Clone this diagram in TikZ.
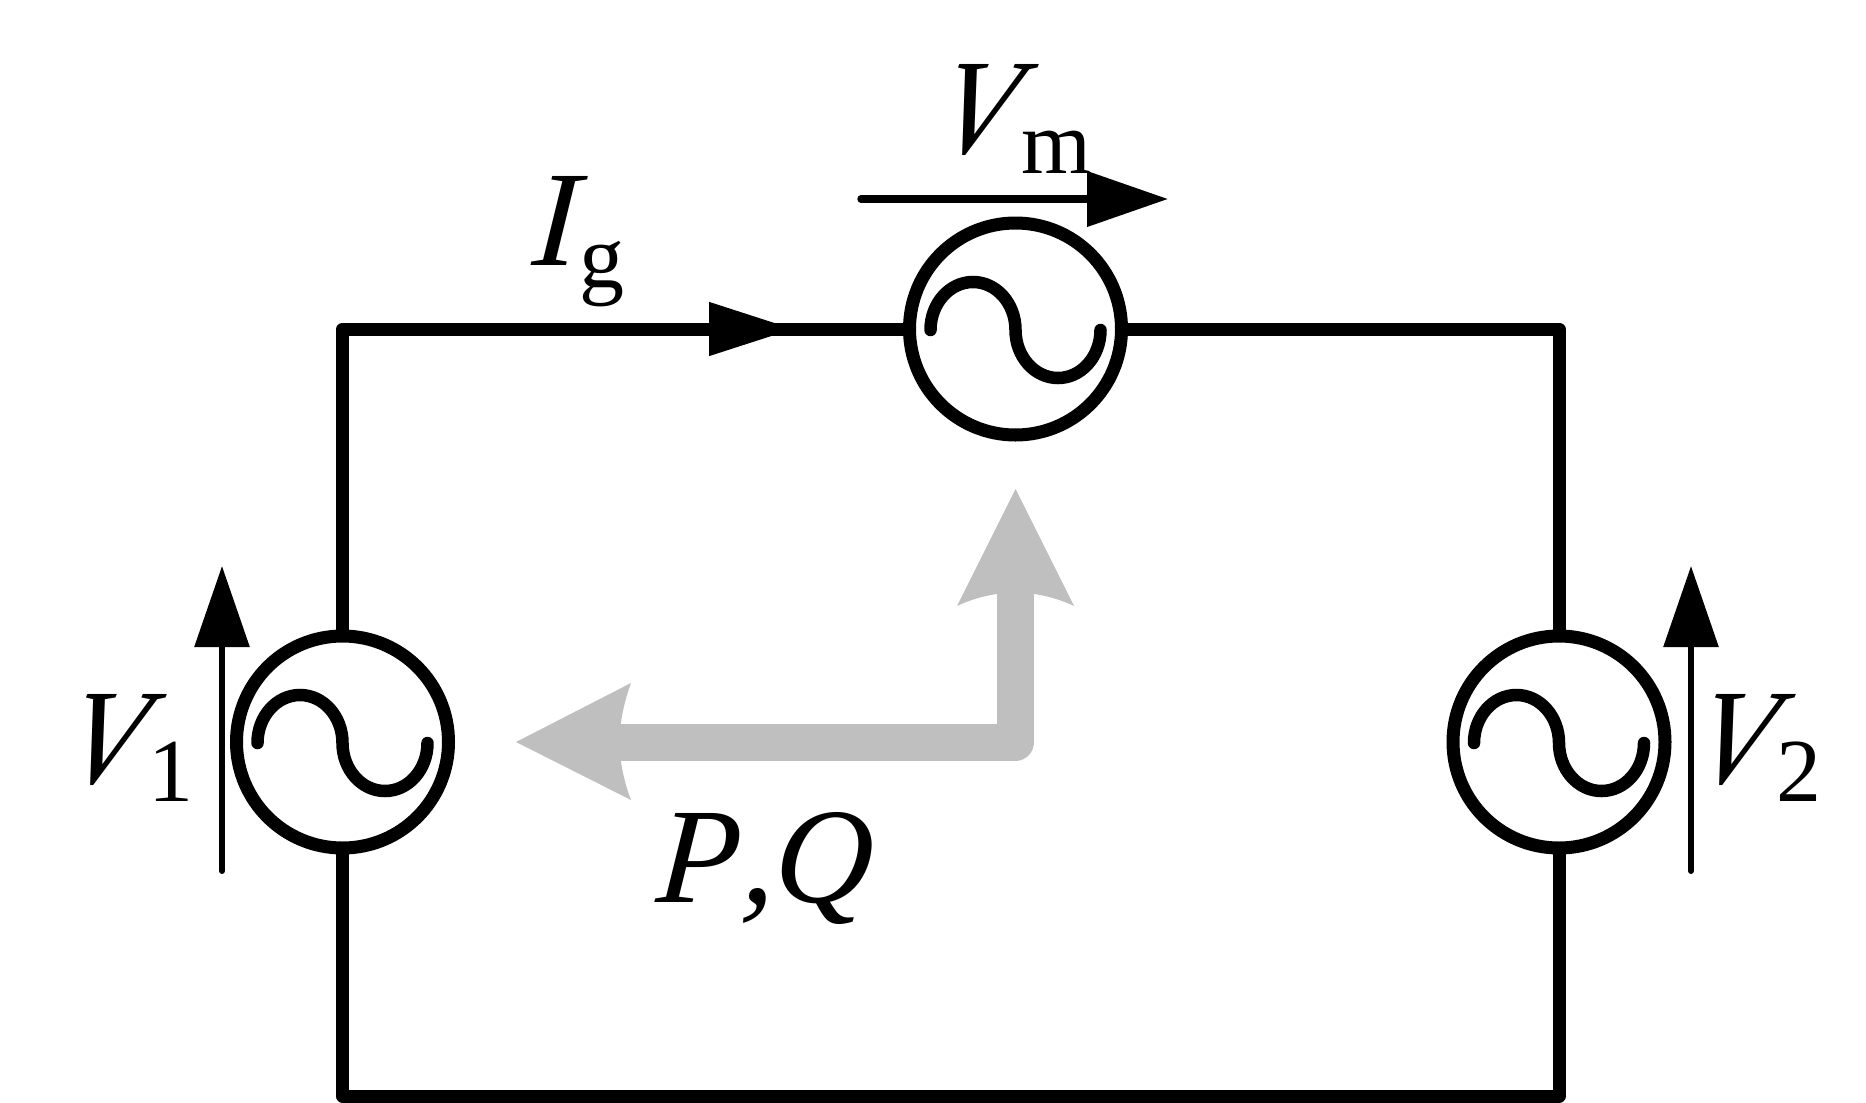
\documentclass[tikz,border=0pt]{standalone}
\usepackage{fontspec}
\setmainfont{Liberation Serif}
\usetikzlibrary{arrows.meta}
\definecolor{flowgray}{HTML}{BFBFBF}
\newfontface\vfont[FakeSlant=0.24,FakeStretch=0.9]{Liberation Serif Italic}
\newfontface\ifont[FakeSlant=0.07]{Liberation Serif Italic}
\newcommand{\vlab}{\fontsize{136}{136}\vfont}
\newcommand{\biglab}{\fontsize{136}{136}\ifont}
\newcommand{\sublab}{\fontsize{90}{90}\selectfont}
\tikzset{
  wire/.style={line width=13pt,line join=round,line cap=butt},
  source/.style={circle,draw,line width=13pt,minimum size=212pt,inner sep=0pt,outer sep=0pt},
  sinewave/.style={line width=12.5pt,line cap=round},
  meas/.style={line width=6pt,line cap=round,-{Triangle[length=81pt,width=54pt]}},
  currenthead/.style={line width=1pt,-{Triangle[length=84pt,width=54pt]}},
  flow/.style={draw=flowgray,line width=37pt,line join=round},
  flowhead/.style={fill=flowgray,draw=none},
  lab/.style={anchor=base west,inner sep=0pt,outer sep=0pt}
}
\newcommand{\acwave}[1]{%
  \draw[sinewave] ([shift={(-85,1)}]#1.center)
    arc[start angle=180,end angle=360,x radius=42.5,y radius=48]
    arc[start angle=180,end angle=0,x radius=42.5,y radius=48];}
\begin{document}
\begin{tikzpicture}[x=1pt,y=-1pt]
\useasboundingbox (0,0) rectangle (1866,1103);
% sources
\node[source] (g1) at (342.5,742) {};
\node[source] (g2) at (1559,742) {};
\node[source] (gm) at (1015.5,329) {};
\acwave{g1}
\acwave{g2}
\acwave{gm}
% wires
\coordinate (ib) at (700,329);
\coordinate (ig) at (793,329);
\coordinate (cb) at (950,1096);
\draw[wire] (g1.north) |- (gm.west);
\draw[currenthead] (ib) -- (ig);
\draw[wire] (gm.east) -| (g2.north);
\draw[wire] (g1.south) |- (cb) -| (g2.south);
% measurement arrows
\coordinate (vms) at (861,199);
\coordinate (vme) at (1168,199);
\draw[meas,line width=7.5pt] (vms) -- (vme);
\coordinate (v1s) at (222,871);
\coordinate (v1e) at (222,566);
\draw[meas] (v1s) -- (v1e);
\coordinate (v2s) at (1691,871);
\coordinate (v2e) at (1691,566);
\draw[meas] (v2s) -- (v2e);
% grey power-flow arrow
\coordinate (fcorner) at (1015.5,742);
\coordinate (fleft) at (600,742);
\coordinate (fup) at (1015.5,570);
\draw[flow] (fleft) -- (fcorner) -- (fup);
\path[flowhead] (1015.5,489) -- (1074,606) .. controls (1055,597) and (1035,593) .. (1015.5,592)
   .. controls (996,593) and (976,597) .. (957,606) -- cycle;
\path[flowhead] (516,742) -- (631,683) .. controls (624,702) and (620,722) .. (619,742)
   .. controls (620,762) and (624,782) .. (631,800) -- cycle;
% labels
\node[lab] (lvm) at (931,153) {\vlab V};
\node[lab] (lvms) at (1021,173) {\sublab m};
\node[lab] (lig) at (531,265) {\biglab I};
\node[lab] (ligs) at (579.5,287) {\sublab g};
\node[lab] (lv1) at (59,783) {\vlab V};
\node[lab] (lv1s) at (148,801) {\sublab 1};
\node[lab] (lv2) at (1688,783) {\vlab V};
\node[lab] (lv2s) at (1776,801) {\sublab 2};
\node[lab] (lpq) at (655,902) {\biglab P\kern2pt,\kern-2pt Q};
\end{tikzpicture}
\end{document}
